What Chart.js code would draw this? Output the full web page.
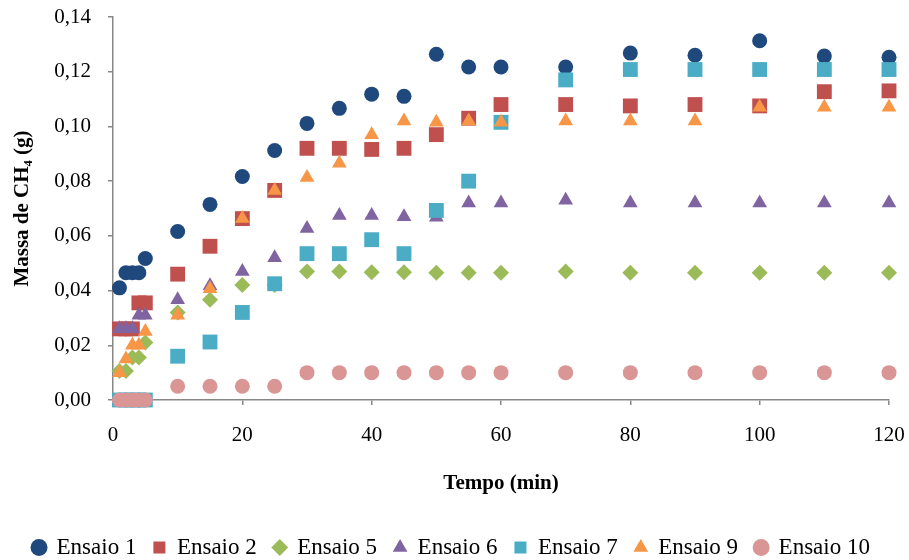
<!DOCTYPE html>
<html>
<head>
<meta charset="utf-8">
<script src="https://cdn.jsdelivr.net/npm/chart.js@4"></script>
<style>
    body { margin: 0; background: #fff; }
    #wrap { width: 909px; height: 560px; }
</style>
</head>
<body>
<div id="wrap"><canvas id="massChart" width="909" height="560"></canvas></div>
<script>
// Data
const tempo = [1, 2, 3, 4, 5, 10, 15, 20, 25, 30, 35, 40, 45, 50, 55, 60, 70, 80, 90, 100, 110, 120];

const ensaio1 = [0.041, 0.0465, 0.0465, 0.0465, 0.0517, 0.0616, 0.0715, 0.0817, 0.0912, 0.1011, 0.1066, 0.1118, 0.111, 0.1264, 0.1217, 0.1217, 0.1217, 0.1268, 0.126, 0.1313, 0.1257, 0.1253];
const ensaio2 = [0.026, 0.026, 0.026, 0.0355, 0.0355, 0.046, 0.0562, 0.0663, 0.0766, 0.092, 0.092, 0.0916, 0.092, 0.097, 0.103, 0.108, 0.108, 0.1075, 0.108, 0.1075, 0.1127, 0.113];
const ensaio5 = [0.0106, 0.0106, 0.0155, 0.0155, 0.021, 0.032, 0.0366, 0.042, 0.042, 0.047, 0.047, 0.0467, 0.0467, 0.0465, 0.0465, 0.0465, 0.047, 0.0465, 0.0465, 0.0465, 0.0465, 0.0465];
const ensaio6 = [0.026, 0.026, 0.026, 0.031, 0.031, 0.0366, 0.0418, 0.047, 0.052, 0.0627, 0.0674, 0.0674, 0.067, 0.0668, 0.072, 0.072, 0.073, 0.072, 0.072, 0.072, 0.072, 0.072];
const ensaio7 = [0, 0, 0, 0, 0, 0.016, 0.0212, 0.032, 0.0425, 0.0535, 0.0535, 0.0586, 0.0535, 0.0693, 0.080, 0.1015, 0.117, 0.1208, 0.1208, 0.1208, 0.1208, 0.1208];
const ensaio9 = [0.010, 0.015, 0.020, 0.020, 0.025, 0.031, 0.0407, 0.0663, 0.0766, 0.0813, 0.0865, 0.097, 0.102, 0.1015, 0.102, 0.1015, 0.102, 0.102, 0.102, 0.107, 0.107, 0.107];
const ensaio10 = [0, 0, 0, 0, 0, 0.005, 0.005, 0.005, 0.005, 0.01, 0.01, 0.01, 0.01, 0.01, 0.01, 0.01, 0.01, 0.01, 0.01, 0.01, 0.01, 0.01];

const seriesNames = ['Ensaio 1', 'Ensaio 2', 'Ensaio 5', 'Ensaio 6', 'Ensaio 7', 'Ensaio 9', 'Ensaio 10'];

const xTickValues = [0, 20, 40, 60, 80, 100, 120];
const xTickLabels = ['0', '20', '40', '60', '80', '100', '120'];
const yTickValues = [0, 0.02, 0.04, 0.06, 0.08, 0.10, 0.12, 0.14];
const yTickLabels = ['0,00', '0,02', '0,04', '0,06', '0,08', '0,10', '0,12', '0,14'];

// Styles
const FONT = '"Liberation Serif", "Times New Roman", serif';
const AXIS = '#878787';
const styles = [
    { color: '#1F497D', shape: 'circle', r: 7.5 },
    { color: '#C0504D', shape: 'rect', r: 10.5 },
    { color: '#9BBB59', shape: 'rectRot', r: 8 },
    { color: '#8064A2', shape: 'triangle', r: 8.5 },
    { color: '#4BACC6', shape: 'rect', r: 10.5 },
    { color: '#F79646', shape: 'triangle', r: 8.5 },
    { color: '#D99694', shape: 'circle', r: 7.5 }
];

const allSeries = [ensaio1, ensaio2, ensaio5, ensaio6, ensaio7, ensaio9, ensaio10];

const datasets = allSeries.map((vals, i) => ({
    label: seriesNames[i],
    data: tempo.map((t, k) => ({ x: t, y: vals[k] })),
    showLine: false,
    pointStyle: styles[i].shape,
    pointRadius: styles[i].r,
    pointHoverRadius: styles[i].r,
    backgroundColor: styles[i].color,
    borderColor: styles[i].color,
    borderWidth: 0,
    clip: false,
    order: allSeries.length - i // later series drawn on top
}));

Chart.defaults.font.family = FONT;
Chart.defaults.color = '#000';

new Chart(document.getElementById('massChart'), {
    type: 'scatter',
    data: { datasets: datasets },
    options: {
        responsive: false,
        animation: false,
        layout: { padding: { left: 14, right: 20, top: 17, bottom: -9 } },
        plugins: {
            tooltip: { enabled: false },
            legend: {
                position: 'bottom',
                labels: {
                    usePointStyle: true,
                    boxWidth: 12,
                    boxHeight: 12,
                    padding: 17,
                    font: { size: 23 },
                    color: '#000',
                    sort: (a, b) => a.datasetIndex - b.datasetIndex
                }
            }
        },
        scales: {
            x: {
                type: 'linear',
                min: 0,
                max: 120,
                afterBuildTicks: s => { s.ticks = xTickValues.map(v => ({ value: v })); },
                afterFit: s => {
                    // fixed box so the plot area lands where the reference has it
                    s.height = 119;
                    s.paddingLeft = 0;
                    s.paddingRight = 0;
                },
                ticks: {
                    padding: 18,
                    font: { size: 21 },
                    callback: (v, i) => xTickLabels[i]
                },
                grid: { drawOnChartArea: false, drawTicks: true, tickLength: 5, color: AXIS, lineWidth: 1.5 },
                border: { color: AXIS, width: 1.5 },
                title: {
                    display: true,
                    text: 'Tempo (min)',
                    font: { size: 21, weight: 'bold' },
                    padding: { top: 0, bottom: 23 }
                }
            },
            y: {
                type: 'linear',
                min: 0,
                max: 0.14,
                afterBuildTicks: s => { s.ticks = yTickValues.map(v => ({ value: v })); },
                afterFit: s => {
                    s.width = 99;
                    s.paddingTop = 0;
                    s.paddingBottom = 0;
                },
                ticks: {
                    padding: 17,
                    font: { size: 21 },
                    callback: (v, i) => yTickLabels[i]
                },
                grid: { drawOnChartArea: false, drawTicks: true, tickLength: 5, color: AXIS, lineWidth: 1.5 },
                border: { color: AXIS, width: 1.5 },
                title: {
                    display: true,
                    text: 'Massa de CH₄ (g)',
                    font: { size: 21, weight: 'bold' },
                    padding: { top: -4, bottom: 0 }
                }
            }
        }
    }
});
</script>
</body>
</html>
